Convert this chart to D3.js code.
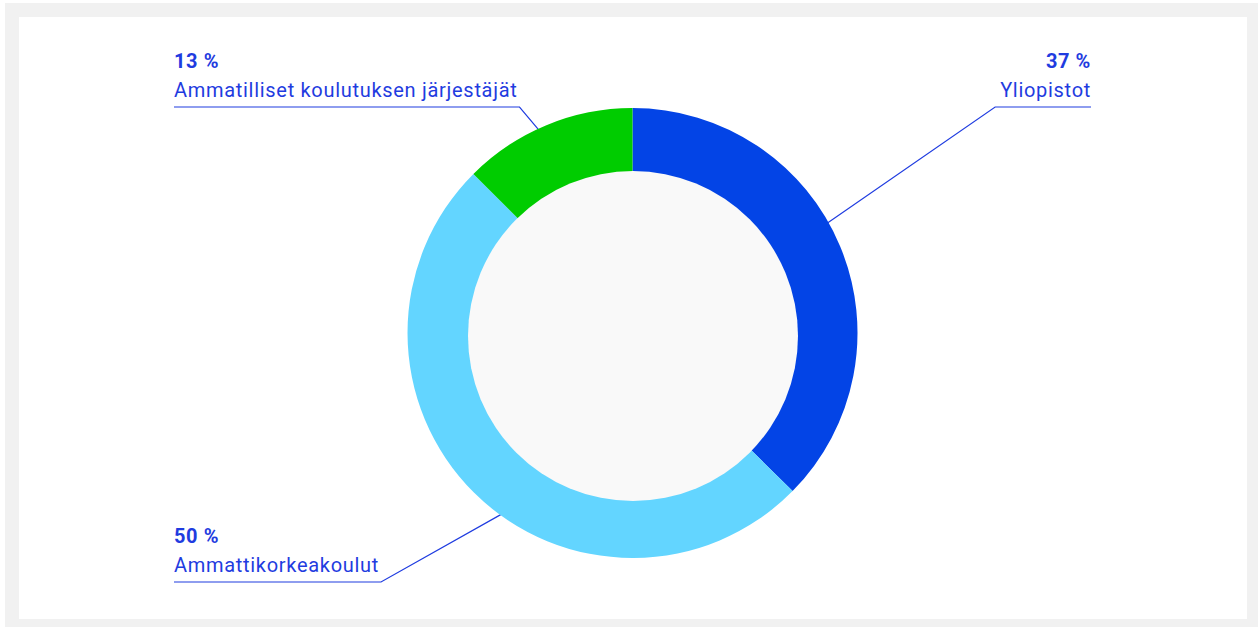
<!DOCTYPE html>
<html>
<head>
<meta charset="utf-8">
<script src="https://cdn.jsdelivr.net/npm/d3@7"></script>
<style>
    html, body { margin: 0; padding: 0; background: #ffffff; }
    svg { display: block; font-family: Roboto, "Noto Sans", sans-serif; }
</style>
</head>
<body>
<div id="chart"></div>
<script>
// data
const categories = ["Yliopistot", "Ammattikorkeakoulut", "Ammatilliset koulutuksen järjestäjät"];
const shares = [37.4, 50.1, 12.5];
const colors = ["#0344e6", "#63d5ff", "#00cc00"];
// which side of the chart each label sits, and top / bottom row
const labelSide = ["right", "left", "left"];
const labelRow = ["top", "bottom", "top"];

const width = 1258, height = 627;
const cx = 632.5, cy = 333;
const outerR = 225, innerR = 165;
const textColor = "#1f3ce0";

const svg = d3.select("#chart").append("svg")
    .attr("width", width)
    .attr("height", height);

// frame
svg.append("rect")
    .attr("x", 5).attr("y", 3)
    .attr("width", width - 5).attr("height", height - 3)
    .attr("fill", "#f1f1f1");
svg.append("rect")
    .attr("x", 19).attr("y", 17)
    .attr("width", 1228).attr("height", 602)
    .attr("fill", "#ffffff");

const data = categories.map((name, i) => ({
    name: name,
    value: shares[i],
    color: colors[i],
    side: labelSide[i],
    row: labelRow[i]
}));

const pie = d3.pie()
    .value(d => d.value)
    .sort(null);

const arcs = pie(data);

const arc = d3.arc()
    .innerRadius(innerR - 20)
    .outerRadius(outerR);

const g = svg.append("g")
    .attr("transform", `translate(${cx},${cy})`);

const labels = svg.append("g").attr("class", "labels");
const leaderG = svg.append("g").attr("class", "leaders");

// slices
g.selectAll("path.slice")
    .data(arcs)
    .enter().append("path")
    .attr("class", "slice")
    .attr("d", arc)
    .attr("fill", d => d.data.color);

// centre hole
g.append("circle")
    .attr("cx", 0.5)
    .attr("cy", 3)
    .attr("r", innerR)
    .attr("fill", "#f9f9f9");

// labels
const leftX = 174, rightX = 1091;
const rowLineY = {top: 107, bottom: 582};

arcs.forEach(d => {
    const lineY = rowLineY[d.data.row];
    const isLeft = d.data.side === "left";
    const anchor = isLeft ? "start" : "end";
    const x = isLeft ? leftX : rightX;

    labels.append("text")
        .attr("x", x)
        .attr("y", lineY - 39)
        .attr("text-anchor", anchor)
        .attr("fill", textColor)
        .style("font-size", "20px")
        .style("font-weight", "700")
        .style("letter-spacing", "0.6px")
        .text(Math.round(d.data.value) + " %");

    const name = labels.append("text")
        .attr("x", x)
        .attr("y", lineY - 10)
        .attr("text-anchor", anchor)
        .attr("fill", textColor)
        .style("font-size", "20px")
        .style("letter-spacing", "0.7px")
        .text(d.data.name);

    const w = name.node().getBBox().width;
    const elbowX = isLeft ? x + w + 2 : x - w - 5;

    const a = d.startAngle + (d.endAngle - d.startAngle) * 0.45;
    const r = outerR - 2;
    const px = cx + Math.sin(a) * r;
    const py = cy - Math.cos(a) * r;

    leaderG.append("polyline")
        .attr("points", `${x},${lineY} ${elbowX},${lineY} ${px},${py}`)
        .attr("fill", "none")
        .attr("stroke", textColor)
        .attr("stroke-width", 1.2);
});

// keep the slices above the leader ends
g.raise();
</script>
</body>
</html>
